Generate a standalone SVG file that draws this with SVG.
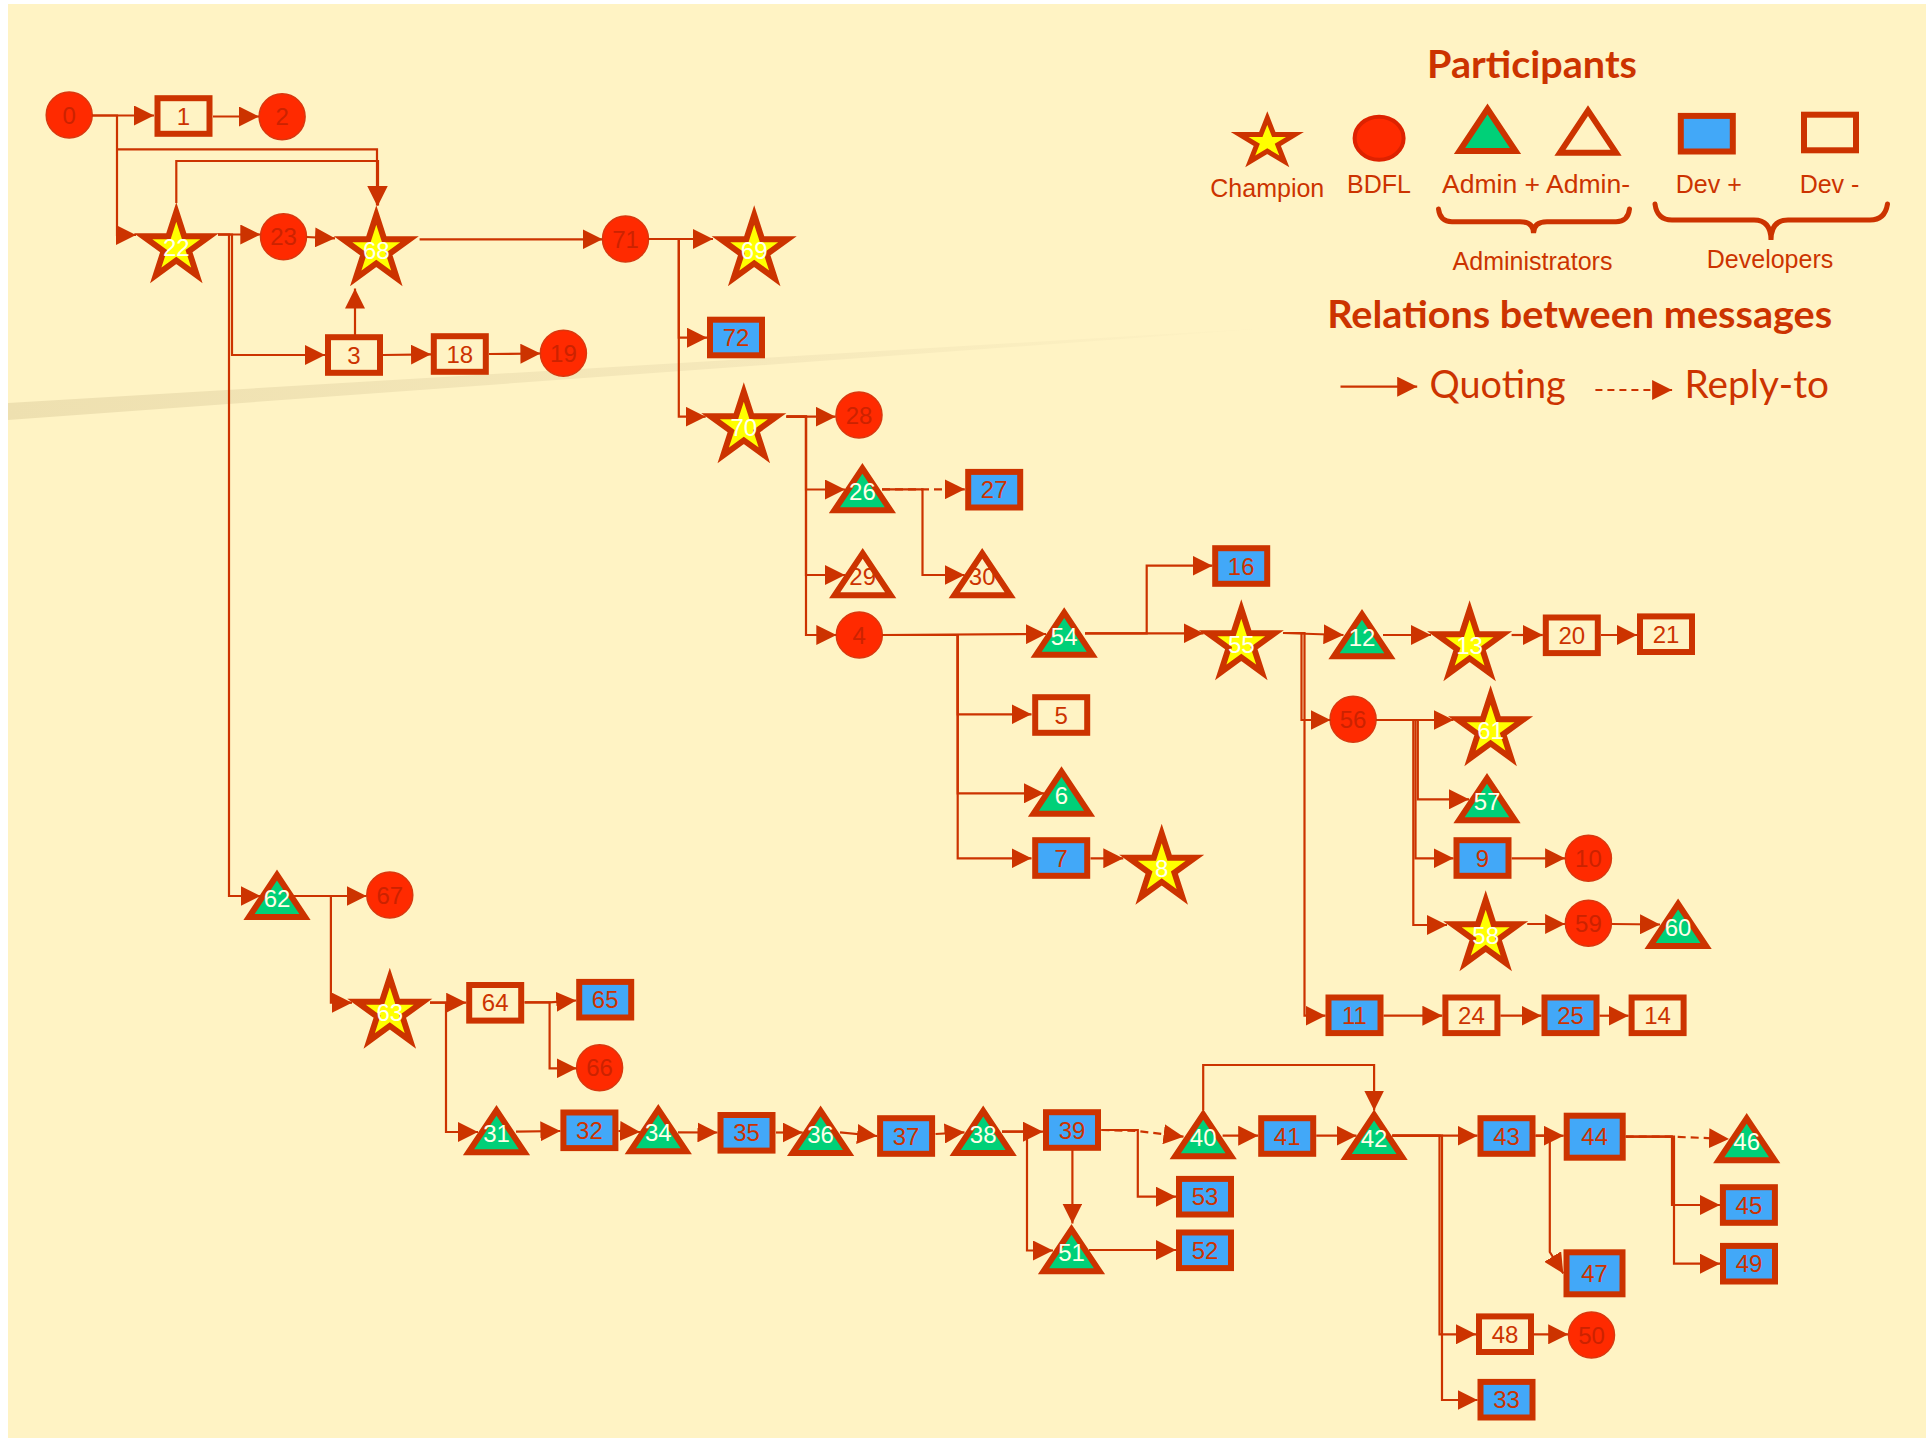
<svg xmlns="http://www.w3.org/2000/svg" xmlns:xlink="http://www.w3.org/1999/xlink" width="1926" height="1442" viewBox="0 0 1926 1442">
<style>
.cn{fill:none;stroke:#CC3300;stroke-width:2.2;marker-end:url(#ah)}
.dash{stroke-dasharray:8 5}
.bdfl ellipse{fill:#FF2A00;stroke:#D9380F;stroke-width:1.5}
.bdfl text{fill:#CC2200}
.champ use{fill:#FFFF00;stroke:#CC3300;stroke-width:6;stroke-linejoin:miter}
.champ text{fill:#FFFFF0}
.admp use{fill:#00D078;stroke:#CC3300;stroke-width:6}
.admp text{fill:#FFFFE8}
.admm use{fill:#FFF3C4;stroke:#CC3300;stroke-width:6}
.admm text{fill:#CC3300}
.devp rect{fill:#42A8F8;stroke:#CC3300;stroke-width:6}
.devm rect{fill:#FFF3C4;stroke:#CC3300;stroke-width:6}
.devp text,.devm text{fill:#CC3300}
text{font-family:"Liberation Sans",Arial,sans-serif;font-size:24px;text-anchor:middle}
.lg{fill:#CC3300;font-size:25px}
.ttl{fill:#CC3300;font-family:Lato,"Open Sans",sans-serif;font-weight:bold;font-size:38px}
.rel{fill:#CC3300;font-family:Lato,"Open Sans",sans-serif;font-size:38px}
.brace{fill:none;stroke:#CC3300;stroke-width:5;stroke-linecap:round}
</style>
<defs>
<marker id="ah" viewBox="0 0 20 20" refX="20" refY="10" markerWidth="20" markerHeight="20" markerUnits="userSpaceOnUse" orient="auto"><path d="M0,0 L20,10 L0,20 Z" fill="#CC3300"/></marker>
<path id="star" d="M0,-35 L7.86,-10.82 L33.29,-10.82 L12.72,4.13 L20.57,28.32 L0,13.37 L-20.57,28.32 L-12.72,4.13 L-33.29,-10.82 L-7.86,-10.82 Z"/>
<path id="tri" d="M0,-42 L28,0 L-28,0 Z"/>
<linearGradient id="streak" x1="0" y1="0" x2="1" y2="0"><stop offset="0" stop-color="#EEE0B0"/><stop offset="0.6" stop-color="#F6E9BB"/><stop offset="1" stop-color="#FFF3C4"/></linearGradient>
</defs>
<rect x="0" y="0" width="1926" height="1442" fill="#FFFFFF"/>
<rect x="8" y="4" width="1918" height="1434" fill="#FFF3C4"/>
<polygon points="8,403 1300,326 8,420" fill="url(#streak)"/>

<g id="legend">
<text class="ttl" x="1532" y="78" textLength="210" lengthAdjust="spacingAndGlyphs">Participants</text>
<g class="champ"><path d="M0,-24 L6.51,-7.42 L27.58,-7.42 L10.54,2.83 L17.04,19.42 L0,9.17 L-17.04,19.42 L-10.54,2.83 L-27.58,-7.42 L-6.51,-7.42 Z" transform="translate(1267.3,142)" fill="#FFFF00" stroke="#CC3300" stroke-width="5"/></g>
<text class="lg" x="1267.3" y="196.5">Champion</text>
<ellipse cx="1379.1" cy="138.3" rx="24.5" ry="21.5" fill="#FF2A00" stroke="#DD2200" stroke-width="4"/>
<text class="lg" x="1379" y="193.3">BDFL</text>
<path d="M1487.5,109 L1515.5,151 L1459.5,151 Z" fill="#00D078" stroke="#CC3300" stroke-width="6"/>
<path d="M1588,110.7 L1616,152.7 L1560,152.7 Z" fill="#FFF3C4" stroke="#CC3300" stroke-width="6"/>
<text class="lg" x="1536" y="193.3" font-size="26" textLength="188" lengthAdjust="spacingAndGlyphs">Admin + Admin-</text>
<rect x="1680.8" y="115.9" width="52" height="35.6" fill="#42A8F8" stroke="#CC3300" stroke-width="6"/>
<rect x="1804" y="114.7" width="52" height="35.6" fill="#FFF3C4" stroke="#CC3300" stroke-width="6"/>
<text class="lg" x="1708.8" y="193.3" font-size="26">Dev +</text>
<text class="lg" x="1829.5" y="193.3" font-size="26">Dev -</text>
<path class="brace" d="M1438.5,209 Q1440,221.7 1452,221.7 L1520,221.7 Q1533.5,221.7 1533.5,233.3 Q1533.5,221.7 1547,221.7 L1616,221.7 Q1628,221.7 1629.5,209"/>
<path class="brace" d="M1655,204 Q1657,220 1672,220 L1754,220 Q1771,220 1771,240 Q1771,220 1788,220 L1870,220 Q1885,220 1887.5,204"/>
<text class="lg" x="1532.5" y="270">Administrators</text>
<text class="lg" x="1770" y="268.3">Developers</text>
<text class="ttl" x="1579.7" y="328.3" textLength="505" lengthAdjust="spacingAndGlyphs">Relations between messages</text>
<path class="cn" d="M1340.5,386.7 H1417.2"/>
<text class="rel" x="1497.6" y="398" textLength="136" lengthAdjust="spacingAndGlyphs">Quoting</text>
<path class="cn" d="M1595.4,390 H1672.1" stroke-dasharray="7 5"/>
<text class="rel" x="1756.8" y="398" textLength="144.5" lengthAdjust="spacingAndGlyphs">Reply-to</text>
</g>

<g id="nodes">
<g id="n0" class="bdfl"><ellipse cx="69.2" cy="115" rx="23" ry="23"/><text x="69.2" y="123.5">0</text></g>
<g id="n2" class="bdfl"><ellipse cx="282.1" cy="116.7" rx="23" ry="23"/><text x="282.1" y="125.2">2</text></g>
<g id="n23" class="bdfl"><ellipse cx="283.5" cy="236.7" rx="23" ry="23"/><text x="283.5" y="245.2">23</text></g>
<g id="n71" class="bdfl"><ellipse cx="625.5" cy="239" rx="23" ry="23"/><text x="625.5" y="247.5">71</text></g>
<g id="n19" class="bdfl"><ellipse cx="563.4" cy="353.3" rx="23" ry="23"/><text x="563.4" y="361.8">19</text></g>
<g id="n28" class="bdfl"><ellipse cx="859" cy="415" rx="23" ry="23"/><text x="859" y="423.5">28</text></g>
<g id="n4" class="bdfl"><ellipse cx="859.3" cy="635" rx="23" ry="23"/><text x="859.3" y="643.5">4</text></g>
<g id="n56" class="bdfl"><ellipse cx="1353.1" cy="719.3" rx="23" ry="23"/><text x="1353.1" y="727.8">56</text></g>
<g id="n10" class="bdfl"><ellipse cx="1588.4" cy="858.3" rx="23" ry="23"/><text x="1588.4" y="866.8">10</text></g>
<g id="n59" class="bdfl"><ellipse cx="1588.4" cy="923.3" rx="23" ry="23"/><text x="1588.4" y="931.8">59</text></g>
<g id="n67" class="bdfl"><ellipse cx="389.8" cy="895" rx="23" ry="23"/><text x="389.8" y="903.5">67</text></g>
<g id="n66" class="bdfl"><ellipse cx="599.6" cy="1067.7" rx="23" ry="23"/><text x="599.6" y="1076.2">66</text></g>
<g id="n50" class="bdfl"><ellipse cx="1591.5" cy="1335" rx="23" ry="23"/><text x="1591.5" y="1343.5">50</text></g>

<g id="n22" class="champ"><use href="#star" x="176.3" y="247"/><text x="176.3" y="255.5">22</text></g>
<g id="n68" class="champ"><use href="#star" x="376.3" y="250"/><text x="376.3" y="258.5">68</text></g>
<g id="n69" class="champ"><use href="#star" x="754.2" y="250"/><text x="754.2" y="258.5">69</text></g>
<g id="n70" class="champ"><use href="#star" x="743.8" y="427"/><text x="743.8" y="435.5">70</text></g>
<g id="n55" class="champ"><use href="#star" x="1241.3" y="644"/><text x="1241.3" y="652.5">55</text></g>
<g id="n13" class="champ"><use href="#star" x="1469.6" y="645"/><text x="1469.6" y="653.5">13</text></g>
<g id="n61" class="champ"><use href="#star" x="1490.6" y="730"/><text x="1490.6" y="738.5">61</text></g>
<g id="n58" class="champ"><use href="#star" x="1485.7" y="935"/><text x="1485.7" y="943.5">58</text></g>
<g id="n8" class="champ"><use href="#star" x="1161.7" y="868.5"/><text x="1161.7" y="877">8</text></g>
<g id="n63" class="champ"><use href="#star" x="389.8" y="1012.5"/><text x="389.8" y="1021">63</text></g>

<g id="n26" class="admp"><use href="#tri" x="862.4" y="510.3"/><text x="862.4" y="500.3">26</text></g>
<g id="n54" class="admp"><use href="#tri" x="1064.2" y="654.7"/><text x="1064.2" y="644.7">54</text></g>
<g id="n6" class="admp"><use href="#tri" x="1061.5" y="813.7"/><text x="1061.5" y="803.7">6</text></g>
<g id="n12" class="admp"><use href="#tri" x="1362" y="656.3"/><text x="1362" y="646.3">12</text></g>
<g id="n57" class="admp"><use href="#tri" x="1487" y="820.3"/><text x="1487" y="810.3">57</text></g>
<g id="n60" class="admp"><use href="#tri" x="1678.1" y="946"/><text x="1678.1" y="936">60</text></g>
<g id="n62" class="admp"><use href="#tri" x="277" y="917"/><text x="277" y="907">62</text></g>
<g id="n31" class="admp"><use href="#tri" x="496.5" y="1152.3"/><text x="496.5" y="1142.3">31</text></g>
<g id="n34" class="admp"><use href="#tri" x="658.3" y="1151.3"/><text x="658.3" y="1141.3">34</text></g>
<g id="n36" class="admp"><use href="#tri" x="820.6" y="1153"/><text x="820.6" y="1143">36</text></g>
<g id="n38" class="admp"><use href="#tri" x="983.2" y="1153"/><text x="983.2" y="1143">38</text></g>
<g id="n40" class="admp"><use href="#tri" x="1203.2" y="1156.3"/><text x="1203.2" y="1146.3">40</text></g>
<g id="n42" class="admp"><use href="#tri" x="1374.1" y="1157"/><text x="1374.1" y="1147">42</text></g>
<g id="n51" class="admp"><use href="#tri" x="1071.5" y="1271.3"/><text x="1071.5" y="1261.3">51</text></g>
<g id="n46" class="admp"><use href="#tri" x="1746.7" y="1160.3"/><text x="1746.7" y="1150.3">46</text></g>
<g id="n29" class="admm"><use href="#tri" x="862.7" y="595.3"/><text x="862.7" y="585.3">29</text></g>
<g id="n30" class="admm"><use href="#tri" x="982.2" y="595.3"/><text x="982.2" y="585.3">30</text></g>

<g id="n72" class="devp"><rect x="710" y="319.7" width="52" height="35.6"/><text x="736" y="346">72</text></g>
<g id="n27" class="devp"><rect x="968.2" y="471.9" width="52" height="35.6"/><text x="994.2" y="498.2">27</text></g>
<g id="n16" class="devp"><rect x="1215.2" y="548.2" width="52" height="35.6"/><text x="1241.2" y="574.5">16</text></g>
<g id="n7" class="devp"><rect x="1035.2" y="840.2" width="52" height="35.6"/><text x="1061.2" y="866.5">7</text></g>
<g id="n9" class="devp"><rect x="1456.5" y="840.2" width="52" height="35.6"/><text x="1482.5" y="866.5">9</text></g>
<g id="n11" class="devp"><rect x="1328.5" y="997.5" width="52" height="35.6"/><text x="1354.5" y="1023.8">11</text></g>
<g id="n25" class="devp"><rect x="1544.5" y="997.5" width="52" height="35.6"/><text x="1570.5" y="1023.8">25</text></g>
<g id="n65" class="devp"><rect x="579.2" y="981.9" width="52" height="35.6"/><text x="605.2" y="1008.2">65</text></g>
<g id="n32" class="devp"><rect x="563.4" y="1112.5" width="52" height="35.6"/><text x="589.4" y="1138.8">32</text></g>
<g id="n35" class="devp"><rect x="720.5" y="1115" width="52" height="35.6"/><text x="746.5" y="1141.3">35</text></g>
<g id="n37" class="devp"><rect x="880.1" y="1118.2" width="52" height="35.6"/><text x="906.1" y="1144.5">37</text></g>
<g id="n39" class="devp"><rect x="1046" y="1112.2" width="52" height="35.6"/><text x="1072" y="1138.5">39</text></g>
<g id="n41" class="devp"><rect x="1261.2" y="1118.2" width="52" height="35.6"/><text x="1287.2" y="1144.5">41</text></g>
<g id="n43" class="devp"><rect x="1480.5" y="1118.2" width="52" height="35.6"/><text x="1506.5" y="1144.5">43</text></g>
<g id="n44" class="devp"><rect x="1566.7" y="1115.7" width="56" height="42"/><text x="1594.7" y="1145.2">44</text></g>
<g id="n47" class="devp"><rect x="1566.5" y="1252.3" width="56" height="42"/><text x="1594.5" y="1281.8">47</text></g>
<g id="n45" class="devp"><rect x="1722.9" y="1187.2" width="52" height="35.6"/><text x="1748.9" y="1213.5">45</text></g>
<g id="n49" class="devp"><rect x="1723" y="1245.9" width="52" height="35.6"/><text x="1749" y="1272.2">49</text></g>
<g id="n53" class="devp"><rect x="1179" y="1178.9" width="52" height="35.6"/><text x="1205" y="1205.2">53</text></g>
<g id="n52" class="devp"><rect x="1179" y="1232.5" width="52" height="35.6"/><text x="1205" y="1258.8">52</text></g>
<g id="n33" class="devp"><rect x="1480.5" y="1381.9" width="52" height="35.6"/><text x="1506.5" y="1408.2">33</text></g>

<g id="n1" class="devm"><rect x="157.5" y="98.2" width="52" height="35.6"/><text x="183.5" y="124.5">1</text></g>
<g id="n3" class="devm"><rect x="328" y="337.2" width="52" height="35.6"/><text x="354" y="363.5">3</text></g>
<g id="n18" class="devm"><rect x="433.8" y="336.2" width="52" height="35.6"/><text x="459.8" y="362.5">18</text></g>
<g id="n20" class="devm"><rect x="1545.8" y="617.5" width="52" height="35.6"/><text x="1571.8" y="643.8">20</text></g>
<g id="n21" class="devm"><rect x="1640" y="616.4" width="52" height="35.6"/><text x="1666" y="642.7">21</text></g>
<g id="n24" class="devm"><rect x="1445.4" y="997.5" width="52" height="35.6"/><text x="1471.4" y="1023.8">24</text></g>
<g id="n14" class="devm"><rect x="1631.6" y="997.5" width="52" height="35.6"/><text x="1657.6" y="1023.8">14</text></g>
<g id="n5" class="devm"><rect x="1035.2" y="697.2" width="52" height="35.6"/><text x="1061.2" y="723.5">5</text></g>
<g id="n64" class="devm"><rect x="469.2" y="985" width="52" height="35.6"/><text x="495.2" y="1011.3">64</text></g>
<g id="n48" class="devm"><rect x="1479" y="1316.4" width="52" height="35.6"/><text x="1505" y="1342.7">48</text></g>
</g>

<g id="connectors">
<path class="cn" d="M92,115.5 H154"/>
<path class="cn" d="M213,116.5 H259"/>
<path class="cn" d="M92,115.5 H117 V235 H136"/>
<path class="cn" d="M117,149.3 H377 V205.5"/>
<path class="cn" d="M176.3,203 V161 H378 V205.5"/>
<path class="cn" d="M218,234.5 H260.3"/>
<path class="cn" d="M218,234.5 H232 V355 H325"/>
<path class="cn" d="M218,234.5 H229 V896 H260.5"/>
<path class="cn" d="M306.5,237 L335,238.3"/>
<path class="cn" d="M355,337 V288.5"/>
<path class="cn" d="M383,355 L431,354.3"/>
<path class="cn" d="M489,354 L540.4,353.5"/>
<path class="cn" d="M419.6,239.3 H602.5"/>
<path class="cn" d="M648.5,239 H713"/>
<path class="cn" d="M648.5,239 H678.8 V337.7 H707"/>
<path class="cn" d="M648.5,239 H678.8 V416.7 H705.7"/>
<path class="cn" d="M786.5,416.7 H835.7"/>
<path class="cn" d="M786.5,416.7 H806 V489.5 H845"/>
<path class="cn" d="M786.5,416.7 H806 V575 H845"/>
<path class="cn" d="M786.5,416.7 H806 V635 H836.3"/>
<path class="cn" d="M882,489.3 H922.5 V575 H964.5"/>
<path class="cn dash" d="M882,489.3 H964.8"/>
<path class="cn" d="M882.3,635 L1046,634"/>
<path class="cn" d="M882.3,635 H957.7 V714.3 H1031.5"/>
<path class="cn" d="M882.3,635 H957.7 V793.3 H1044"/>
<path class="cn" d="M882.3,635 H957.7 V858.3 H1031.5"/>
<path class="cn" d="M1085,633.3 H1146.7 V565.7 H1212.5"/>
<path class="cn" d="M1085,633.3 H1203.5"/>
<path class="cn" d="M1090.5,858.3 H1123.3"/>
<path class="cn" d="M1283,633 L1343.5,635"/>
<path class="cn" d="M1283,633 H1301.5 V720 H1330.5"/>
<path class="cn" d="M1283,633 H1304.5 V1015.7 H1325.5"/>
<path class="cn" d="M1383,635 H1431"/>
<path class="cn" d="M1511.6,635 H1542.8"/>
<path class="cn" d="M1601,635 H1637"/>
<path class="cn" d="M1376.3,720 H1453.5"/>
<path class="cn" d="M1376.3,720 H1417.8 V799.3 H1469"/>
<path class="cn" d="M1376.3,720 H1415.5 V858.3 H1453.5"/>
<path class="cn" d="M1376.3,720 H1413.3 V925 H1447"/>
<path class="cn" d="M1511.6,858.3 H1565.1"/>
<path class="cn" d="M1527.2,924 H1565.1"/>
<path class="cn" d="M1611.7,924 L1660,924.5"/>
<path class="cn" d="M1383.5,1015.7 H1442.4"/>
<path class="cn" d="M1500.4,1015.7 H1541.5"/>
<path class="cn" d="M1599.5,1015.7 H1628.6"/>
<path class="cn" d="M294,896 H366.5"/>
<path class="cn" d="M294,896 H330.9 V1002.7 H352"/>
<path class="cn" d="M430,1002.7 H466.2"/>
<path class="cn" d="M430,1002.7 H446 V1132 H478"/>
<path class="cn" d="M524.6,1002.3 H549.6 L576.2,1000.5"/>
<path class="cn" d="M524.6,1002.3 H549.6 V1068.3 H576.6"/>
<path class="cn" d="M516,1131.7 L560.4,1131"/>
<path class="cn" d="M618.4,1131 L640,1132"/>
<path class="cn" d="M678,1132.3 L717.5,1132.5"/>
<path class="cn" d="M776,1132.5 H802.7"/>
<path class="cn" d="M840,1132.3 L877.1,1136"/>
<path class="cn" d="M935.5,1134 L964.5,1132.3"/>
<path class="cn" d="M1002,1131.7 H1043"/>
<path class="cn" d="M1002,1131.7 H1027 V1250.5 H1053"/>
<path class="cn" d="M1072.4,1150 V1223.5"/>
<path class="cn dash" d="M1101.4,1130 L1137.8,1131 L1183.5,1136.7"/>
<path class="cn" d="M1101.4,1130 H1137.8 V1196.7 H1176"/>
<path class="cn" d="M1089,1250 H1176"/>
<path class="cn" d="M1222.6,1135.7 H1258.2"/>
<path class="cn" d="M1316.2,1135.7 H1356.5"/>
<path class="cn" d="M1203.2,1110 V1065 H1374.1 V1110.5"/>
<path class="cn" d="M1392.3,1135.7 H1477.5"/>
<path class="cn" d="M1392.3,1135.7 H1439.5 V1334.3 H1476"/>
<path class="cn" d="M1392.3,1135.7 H1442 V1400 H1477.5"/>
<path class="cn" d="M1535.5,1135.7 H1563.7"/>
<path class="cn" d="M1535.5,1135.7 H1549.8 V1252 L1563.3,1273.5"/>
<path class="cn dash" d="M1625.7,1136.7 H1672.8 L1729,1139"/>
<path class="cn" d="M1625.7,1136.7 H1672 V1205 H1719.9"/>
<path class="cn" d="M1625.7,1136.7 H1674 V1263.7 H1720"/>
<path class="cn" d="M1534,1334.3 H1568.2"/>
</g>
</svg>
